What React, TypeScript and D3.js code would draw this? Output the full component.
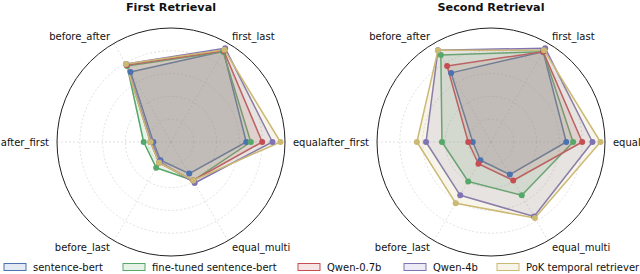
import { useEffect, useRef } from "react";
import * as d3 from "d3";

const CATEGORIES = ["equal", "first_last", "before_after", "after_first", "before_last", "equal_multi"];
const MODELS = ["sentence-bert", "fine-tuned sentence-bert", "Qwen-0.7b", "Qwen-4b", "PoK temporal retriever"];
const COLORS = ["#4c72b0", "#55a868", "#c44e52", "#8172b2", "#ccb974"];
const PANELS = ["First Retrieval", "Second Retrieval"];

// values per category, in CATEGORIES order
const FIRST_SBERT = [0.66, 0.92, 0.71, 0.155, 0.185, 0.32];
const FIRST_FT = [0.7, 0.915, 0.77, 0.24, 0.26, 0.39];
const FIRST_QWEN07 = [0.8, 0.925, 0.78, 0.18, 0.21, 0.39];
const FIRST_QWEN4 = [0.89, 0.95, 0.79, 0.17, 0.2, 0.415];
const FIRST_POK = [0.96, 0.935, 0.79, 0.18, 0.21, 0.39];

const SECOND_SBERT = [0.66, 0.915, 0.7, 0.16, 0.185, 0.33];
const SECOND_FT = [0.72, 0.915, 0.88, 0.43, 0.4, 0.54];
const SECOND_QWEN07 = [0.8, 0.915, 0.77, 0.2, 0.22, 0.39];
const SECOND_QWEN4 = [0.89, 0.95, 0.93, 0.57, 0.54, 0.755];
const SECOND_POK = [0.96, 0.93, 0.93, 0.65, 0.62, 0.77];

const PANEL_DATA = [
  [FIRST_SBERT, FIRST_FT, FIRST_QWEN07, FIRST_QWEN4, FIRST_POK],
  [SECOND_SBERT, SECOND_FT, SECOND_QWEN07, SECOND_QWEN4, SECOND_POK],
];
const RINGS = [0.2, 0.4, 0.6, 0.8];

export default function App() {
  const svgRef = useRef<SVGSVGElement | null>(null);

  useEffect(() => {
    if (!svgRef.current) return;
    const W = 640, H = 274;
    const R = 114;
    const centers = [171, 491];
    const cy = 142;
    const font = "DejaVu Sans, sans-serif";

    const svg = d3.select(svgRef.current);
    svg.selectAll("*").remove();
    svg.attr("width", W).attr("height", H);

    const r = d3.scaleLinear().domain([0, 1]).range([0, R]);
    const angle = d3.scaleLinear().domain([0, CATEGORIES.length]).range([0, 2 * Math.PI]);
    // math angle -> screen position
    const px = (a: number, v: number) => r(v) * Math.cos(a);
    const py = (a: number, v: number) => -r(v) * Math.sin(a);

    PANELS.forEach((title, pi) => {
      const g = svg.append("g").attr("transform", `translate(${centers[pi]},${cy})`);

      // grid rings
      g.selectAll(".ring")
        .data(RINGS)
        .join("circle")
        .attr("r", (d) => r(d))
        .attr("fill", "none")
        .attr("stroke", "#d9d9d9")
        .attr("stroke-width", 0.8)
        .attr("stroke-dasharray", "2,2");

      // spokes
      g.selectAll(".spoke")
        .data(CATEGORIES)
        .join("line")
        .attr("x1", 0)
        .attr("y1", 0)
        .attr("x2", (_, i) => px(angle(i), 1))
        .attr("y2", (_, i) => py(angle(i), 1))
        .attr("stroke", "#d9d9d9")
        .attr("stroke-width", 0.8)
        .attr("stroke-dasharray", "2,2");

      // outer frame
      g.append("circle").attr("r", r(1)).attr("fill", "none").attr("stroke", "#222").attr("stroke-width", 1);

      // series
      const line = d3
        .lineRadial<number>()
        .angle((_, i) => Math.PI / 2 - angle(i))
        .radius((d) => r(d))
        .curve(d3.curveLinearClosed);

      PANEL_DATA[pi].forEach((vals, si) => {
        g.append("path")
          .attr("d", line(vals))
          .attr("fill", COLORS[si])
          .attr("fill-opacity", 0.15)
          .attr("stroke", COLORS[si])
          .attr("stroke-width", 1.5)
          .attr("stroke-linejoin", "round");
      });
      PANEL_DATA[pi].forEach((vals, si) => {
        g.selectAll(`.pt${si}`)
          .data(vals)
          .join("circle")
          .attr("cx", (d, i) => px(angle(i), d))
          .attr("cy", (d, i) => py(angle(i), d))
          .attr("r", 3)
          .attr("fill", COLORS[si]);
      });

      // category labels
      g.selectAll(".lab")
        .data(CATEGORIES)
        .join("text")
        .attr("x", (_, i) => px(angle(i), 1.07))
        .attr("y", (_, i) => py(angle(i), 1.07 / Math.max(Math.abs(Math.sin(angle(i))) > 0.1 ? 1 : 1, 1)))
        .attr("dy", "0.35em")
        .attr("text-anchor", (_, i) => {
          const c = Math.cos(angle(i));
          return c > 0.1 ? "start" : c < -0.1 ? "end" : "middle";
        })
        .attr("font-family", font)
        .attr("font-size", 10)
        .attr("fill", "#111")
        .text((d) => d);

      // title
      svg.append("text")
        .attr("x", centers[pi])
        .attr("y", 11)
        .attr("text-anchor", "middle")
        .attr("font-family", font)
        .attr("font-size", 11.2)
        .attr("font-weight", "bold")
        .attr("fill", "#111")
        .text(title);
    });

    // legend
    const legendX = [4, 123, 298, 404, 497];
    const lg = svg.append("g").attr("transform", "translate(0,263)");
    MODELS.forEach((m, i) => {
      lg.append("rect")
        .attr("x", legendX[i])
        .attr("y", 0.5)
        .attr("width", 22)
        .attr("height", 7)
        .attr("fill", COLORS[i])
        .attr("fill-opacity", 0.15)
        .attr("stroke", COLORS[i])
        .attr("stroke-width", 1);
      lg.append("text")
        .attr("x", legendX[i] + 29)
        .attr("y", 4)
        .attr("dy", "0.35em")
        .attr("font-family", font)
        .attr("font-size", 10)
        .attr("fill", "#111")
        .text(m);
    });
  }, []);

  return <svg ref={svgRef} style={{ position: "absolute", left: 0, top: 0, display: "block" }} />;
}
